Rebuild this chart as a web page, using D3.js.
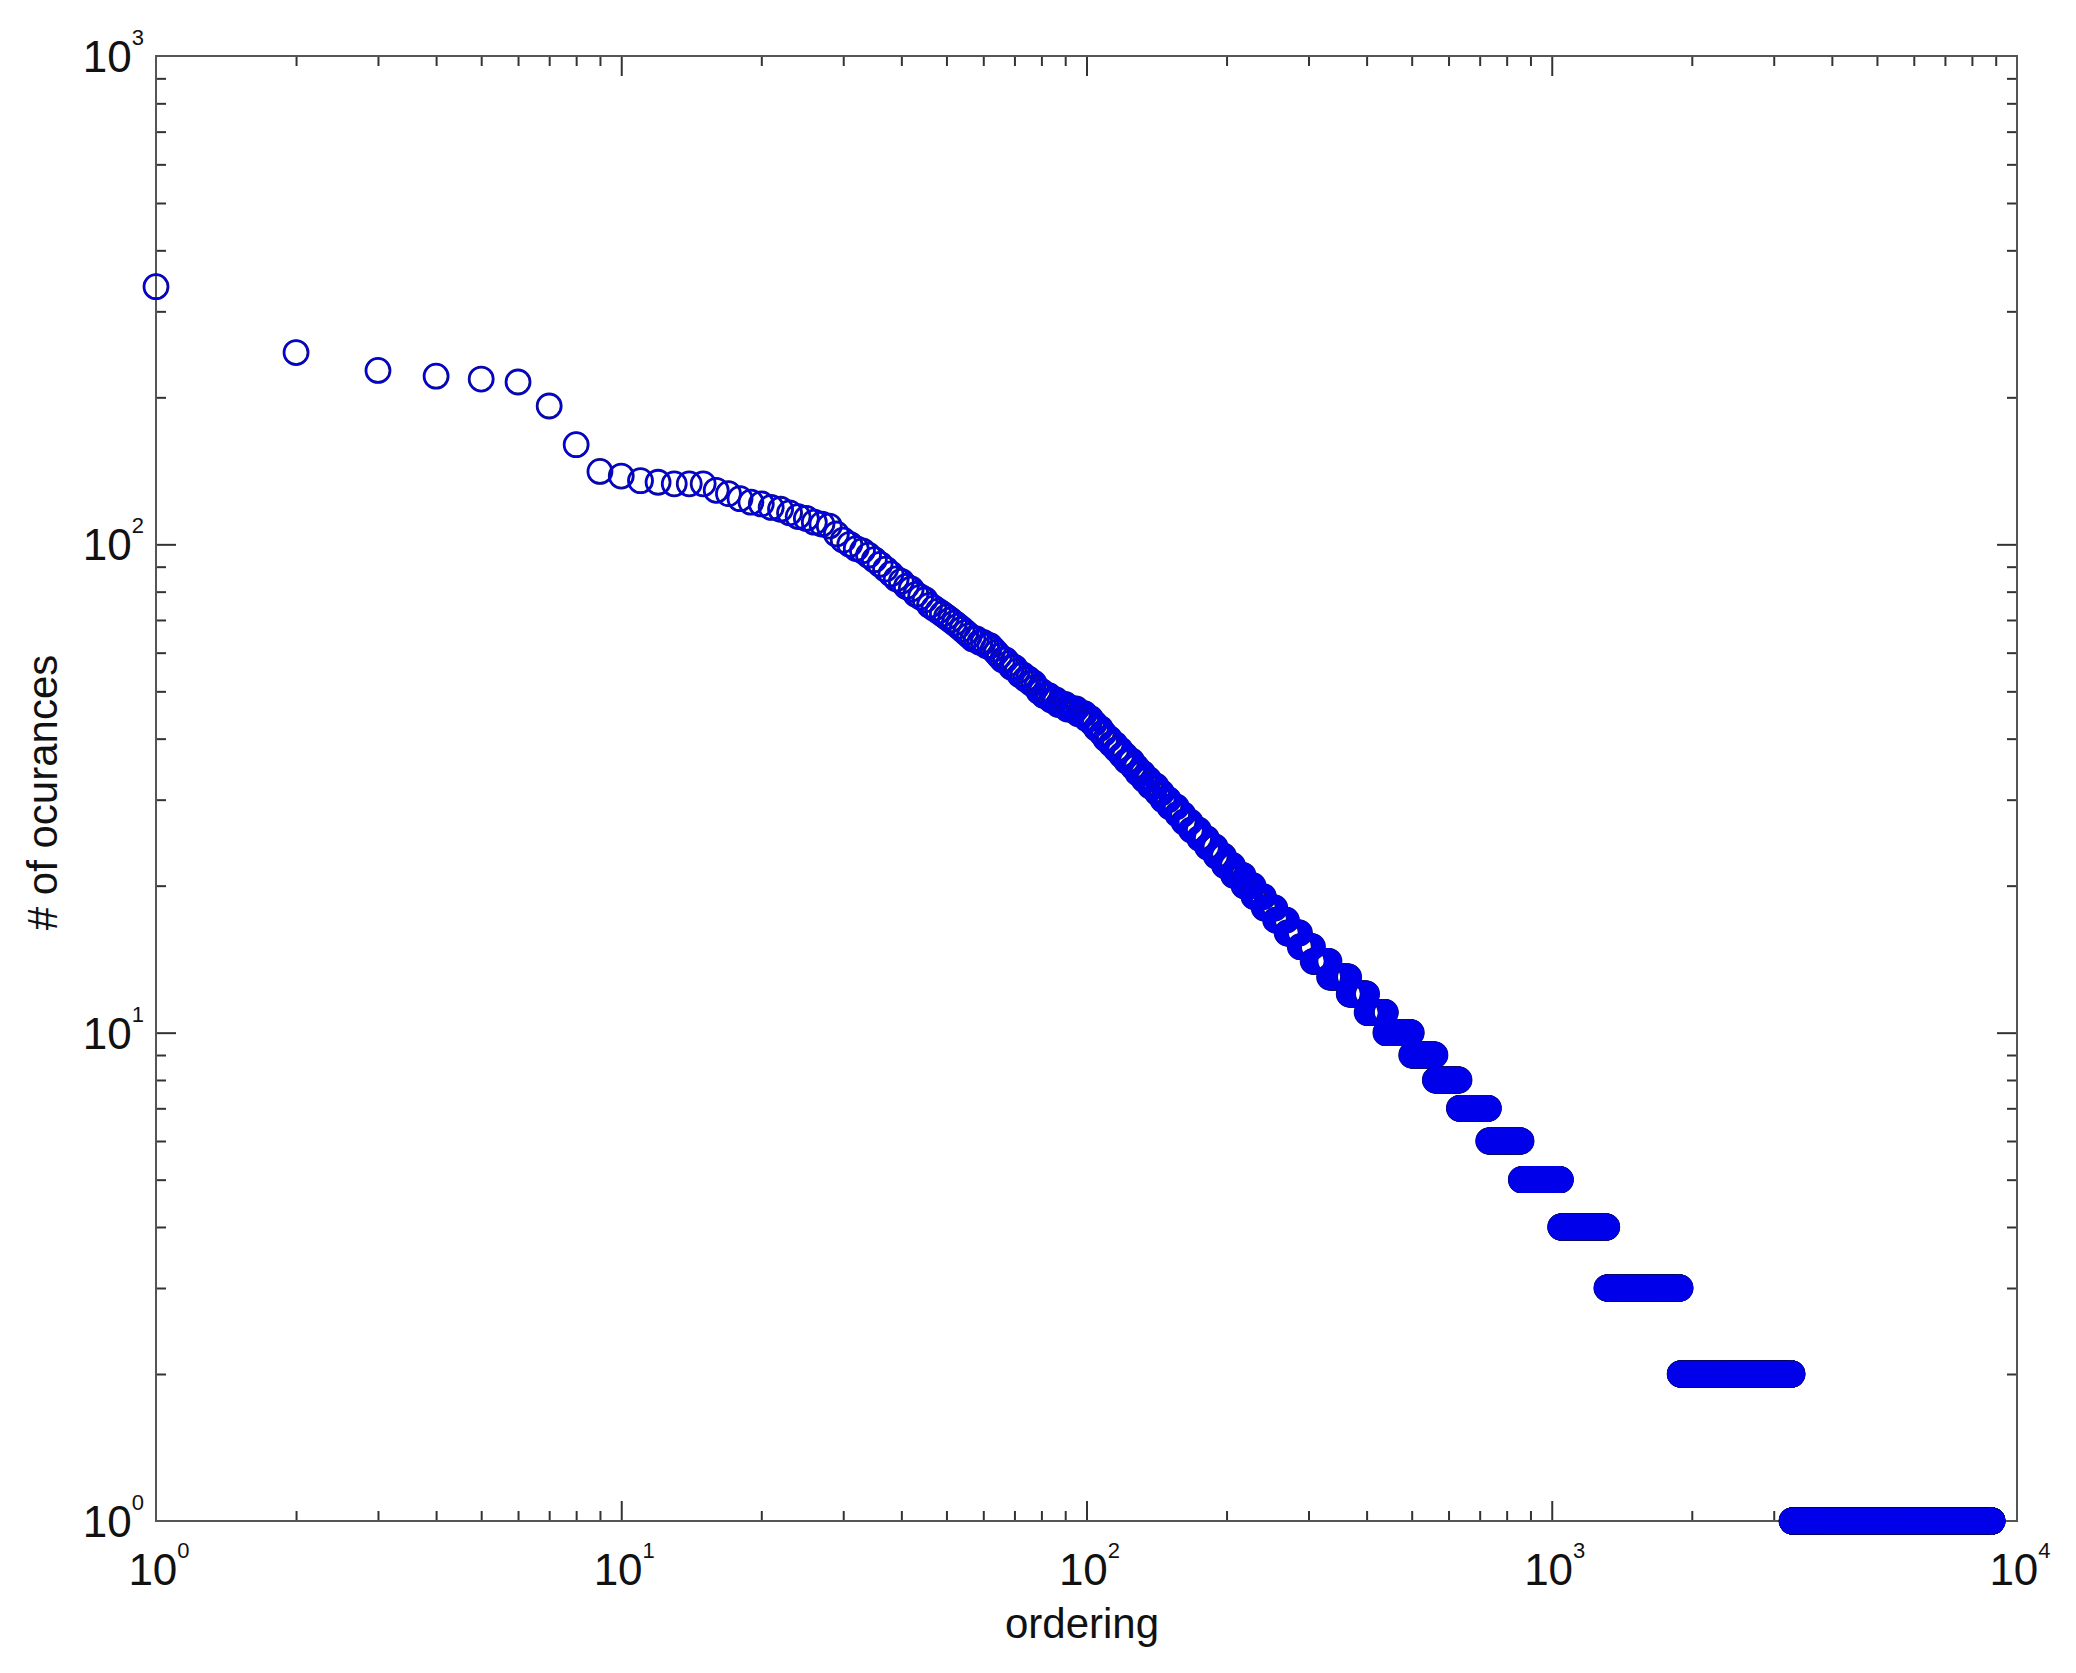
<!DOCTYPE html>
<html>
<head>
<meta charset="utf-8">
<script src="https://cdn.jsdelivr.net/npm/d3@7"></script>
<style>
    body { margin: 0; background: #fff; }
    svg { display: block; background: #fff; }
    text { font-family: "Liberation Sans", Arial, sans-serif; fill: #111; }
</style>
</head>
<body>
<svg id="chart" width="2076" height="1673"></svg>
<script>
// occurrences for ranks 1..99, one value per rank
const headCounts = [
    337, 247, 227, 221, 218, 215, 192, 160, 141, 138,
    135, 134, 133, 133, 133, 129, 127, 124, 122, 121,
    119, 118, 116, 114, 113, 111, 110, 109, 105, 102,
    100, 98, 97, 95, 93, 91, 89, 87, 85, 84,
    82, 81, 79, 78, 77, 75, 74, 73, 72, 71,
    70, 69, 68, 67, 66, 65, 64, 64, 63, 63,
    62, 62, 61, 60, 59, 58, 58, 57, 56, 56,
    55, 54, 54, 53, 53, 52, 52, 51, 50, 50,
    49, 49, 49, 48, 48, 48, 47, 47, 47, 47,
    46, 46, 46, 46, 46, 45, 45, 45, 45
];

// from rank 100 on: occurrence value and how many consecutive ranks share it
const tailCounts = [44, 43, 42, 41, 40, 39, 38, 37, 36, 35, 34, 33, 32, 31, 30,
    29, 28, 27, 26, 25, 24, 23, 22, 21, 20, 19, 18, 17, 16, 15, 14, 13, 12, 11,
    10, 9, 8, 7, 6, 5, 4, 3, 2, 1];
const tailSpans = [3, 2, 3, 2, 3, 3, 3, 3, 4, 3, 4, 4, 5, 4, 5,
    6, 5, 6, 7, 7, 8, 8, 9, 11, 11, 12, 14, 15, 18, 19, 26, 34, 34, 39,
    60, 62, 71, 99, 128, 185, 269, 574, 1397, 5554];

const xDecades = [1, 10, 100, 1000, 10000];
const yDecades = [1, 10, 100, 1000];
const xTitle = 'ordering';
const yTitle = '# of ocurances';

const LEFT = 156, RIGHT = 2017, TOP = 56, BOTTOM = 1521,
    MINOR = 10, MAJOR = 20;

const svg = d3.select('#chart');

const x = d3.scaleLog().domain([1, 10000]).range([LEFT, RIGHT]);
const y = d3.scaleLog().domain([1, 1000]).range([BOTTOM, TOP]);

// build the ranked points
let points = headCounts.map((c, i) => ({ rank: i + 1, count: c }));
let rank = headCounts.length + 1;
tailCounts.forEach((c, i) => {
    for (let k = 0; k < tailSpans[i]; k++) points.push({ rank: rank++, count: c });
});

function minorTicks(decades) {
    let t = [];
    decades.slice(0, -1).forEach(d => {
        for (let m = 2; m < 10; m++) t.push(d * m);
    });
    return t;
}

function addTicks(axisFn, scale, values, size, transform) {
    let g = svg.append('g')
        .attr('transform', transform)
        .call(axisFn(scale).tickValues(values).tickSize(-size).tickFormat(''));
    g.select('.domain').remove();
    g.selectAll('line').attr('stroke', '#333').attr('stroke-width', 2);
}

// ticks, all pointing inwards
const xMinor = minorTicks(xDecades), yMinor = minorTicks(yDecades);
const xMajor = xDecades.slice(1, -1), yMajor = yDecades.slice(1, -1);

addTicks(d3.axisBottom, x, xMinor, MINOR, `translate(0,${BOTTOM})`);
addTicks(d3.axisBottom, x, xMajor, MAJOR, `translate(0,${BOTTOM})`);
addTicks(d3.axisTop, x, xMinor, MINOR, `translate(0,${TOP})`);
addTicks(d3.axisTop, x, xMajor, MAJOR, `translate(0,${TOP})`);
addTicks(d3.axisLeft, y, yMinor, MINOR, `translate(${LEFT},0)`);
addTicks(d3.axisLeft, y, yMajor, MAJOR, `translate(${LEFT},0)`);
addTicks(d3.axisRight, y, yMinor, MINOR, `translate(${RIGHT},0)`);
addTicks(d3.axisRight, y, yMajor, MAJOR, `translate(${RIGHT},0)`);

// frame
svg.append('rect')
    .attr('x', LEFT)
    .attr('y', TOP)
    .attr('width', RIGHT - LEFT)
    .attr('height', BOTTOM - TOP)
    .attr('fill', 'none')
    .attr('stroke', '#555')
    .attr('stroke-width', 2);

// tick labels as 10^k
function powerLabel(sel) {
    sel.append('tspan').text('10');
    sel.append('tspan')
        .attr('dy', -27)
        .attr('font-size', 22)
        .text(d => Math.round(Math.log10(d)));
}

svg.append('g').selectAll('text')
    .data(xDecades)
    .enter()
    .append('text')
    .attr('x', d => x(d) + 3)
    .attr('y', BOTTOM + 64)
    .attr('font-size', 44)
    .attr('text-anchor', 'middle')
    .call(powerLabel);

svg.append('g').selectAll('text')
    .data(yDecades)
    .enter()
    .append('text')
    .attr('x', LEFT - 12)
    .attr('y', d => y(d) + 16)
    .attr('font-size', 44)
    .attr('text-anchor', 'end')
    .call(powerLabel);

// axis titles
svg.append('text')
    .attr('x', 1082)
    .attr('y', 1638)
    .attr('font-size', 42)
    .attr('text-anchor', 'middle')
    .text(xTitle);

svg.append('text')
    .attr('transform', `translate(57,${(TOP + BOTTOM) / 2 + 4}) rotate(-90)`)
    .attr('font-size', 42)
    .attr('text-anchor', 'middle')
    .text(yTitle);

// markers: a dark outline pass under a bright blue pass
function drawMarkers(color, width) {
    svg.append('g').selectAll('circle')
        .data(points)
        .enter()
        .append('circle')
        .attr('cx', d => x(d.rank))
        .attr('cy', d => y(d.count))
        .attr('r', 12)
        .attr('fill', 'none')
        .attr('stroke', color)
        .attr('stroke-width', width);
}

drawMarkers('#101070', 2.8);
drawMarkers('#0000ea', 1.6);
</script>
</body>
</html>
